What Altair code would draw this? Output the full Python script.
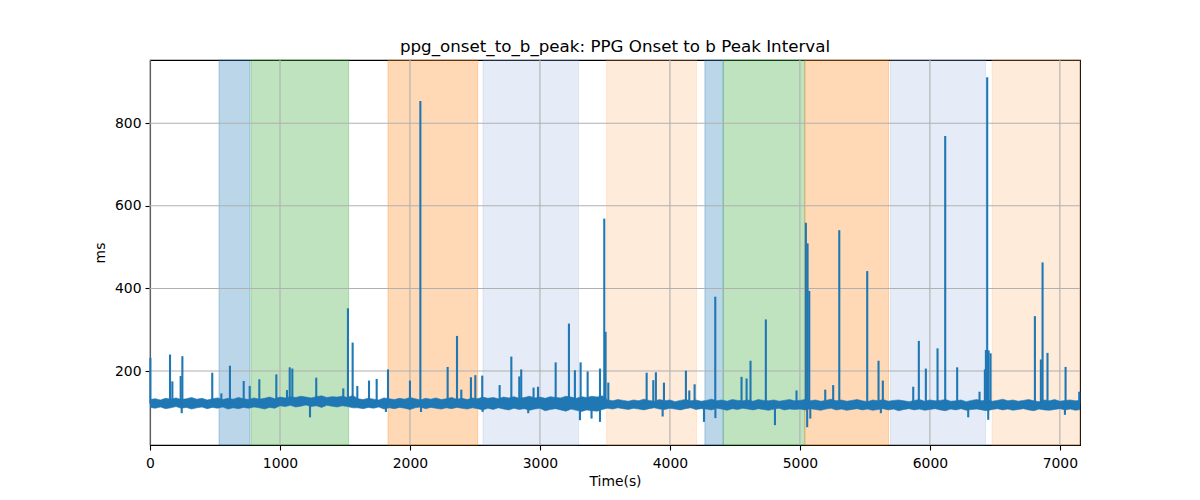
import altair as alt
import pandas as pd

TITLE = "ppg_onset_to_b_peak: PPG Onset to b Peak Interval"
X_TICKS = [0, 1000, 2000, 3000, 4000, 5000, 6000, 7000]
Y_TICKS = [200, 400, 600, 800]
X_MAX = 7155
Y_MIN, Y_MAX = 21, 953
STEP = 40
BASE = 121

# shaded spans
span_start = [531, 777, 1831, 2562, 3513, 4269, 4410, 5038, 5697, 6479]
span_end = [769, 1528, 2521, 3297, 4205, 4410, 5038, 5682, 6428, 7155]
span_color = ["#1f77b4", "#2ca02c", "#ff7f0e", "#7ba1d8", "#ff9d45",
              "#1f77b4", "#2ca02c", "#ff7f0e", "#7ba1d8", "#ff9d45"]
span_alpha = [0.3, 0.3, 0.3, 0.2, 0.2, 0.3, 0.3, 0.3, 0.2, 0.2]

# noisy baseline: upper / lower envelope of the signal, every 40 s
hi = [131, 133, 130, 134, 132, 135, 131, 133, 136, 132, 134, 130, 133, 135, 131,
      134, 132, 136, 133, 131, 135, 132, 134, 137, 133,
      137, 135, 138, 136, 139, 137, 135, 138, 140, 136, 138, 137, 139, 136, 141,
      133, 131, 134, 132, 130, 135, 133, 131, 134, 132, 136, 133, 130, 134, 132,
      135, 131, 133, 136, 132, 134, 131, 135, 133, 137,
      134, 136, 133, 137, 135, 138, 134, 136, 139, 135, 137, 134, 138, 136, 135,
      139, 137, 134, 138, 136, 139, 137, 140,
      130, 128, 131, 129, 127, 130, 128, 132, 129, 127, 131, 128, 130, 126, 129,
      131, 128, 130, 127, 129, 132, 128, 130, 127, 131, 129, 128, 130, 127, 131,
      129, 128, 130, 127, 129, 131, 128,
      129, 131, 128, 130, 127, 129, 132, 128, 130, 127, 129, 131, 128, 126, 130,
      128, 131, 127, 129, 130, 128, 126, 129, 131, 127, 130, 128, 129, 131, 127,
      128, 130, 126, 129, 131, 128, 130, 127, 129, 132, 128, 130, 127, 129, 131,
      128, 126, 130, 128, 131, 127, 129, 130, 128, 129]
lo = [112, 110, 113, 109, 111, 114, 110, 112, 108, 111, 113, 109, 112, 110, 113,
      108, 111, 109, 112, 110, 113, 111, 108, 112, 110,
      116, 114, 117, 113, 115, 118, 114, 116, 112, 117, 115, 113, 116, 114, 111,
      111, 109, 112, 110, 113, 108, 111, 109, 112, 110, 107, 111, 113, 109, 112,
      110, 108, 111, 109, 112, 110, 108, 111, 109, 106,
      110, 107, 111, 108, 106, 110, 107, 109, 105, 108, 110, 104, 107, 109, 106,
      103, 108, 105, 102, 106, 104, 103, 107,
      110, 108, 111, 109, 107, 110, 108, 106, 109, 111, 108, 107, 110, 108, 106,
      109, 111, 107, 109, 108, 106, 110, 108, 105, 109, 107, 110, 108, 106, 109,
      107, 105, 108, 110, 106, 108, 107,
      108, 106, 109, 107, 105, 108, 110, 106, 108, 105, 107, 109, 106, 108, 105,
      107, 109, 106, 108, 104, 107, 109, 106, 108, 105, 107, 109, 106, 104, 108,
      106, 109, 105, 107, 108, 106, 104, 107, 109, 106, 108, 105, 107, 109, 106,
      104, 108, 106, 105, 107, 109, 106, 108, 105, 107]

# upward spikes (time, peak value)
spike_t = [3, 154, 172, 236, 249, 479, 549, 615, 721, 767, 841, 972, 1054, 1075,
           1095, 1279, 1487, 1523, 1559, 1595, 1685, 1744, 1831, 2000, 2080, 2290,
           2362, 2395, 2469, 2503, 2556, 2690, 2780, 2841, 2856, 2951, 2985, 3121,
           3223, 3269, 3313, 3367, 3462, 3495, 3505, 3526, 3821, 3872, 3892, 3954,
           4123, 4149, 4190, 4349, 4551, 4590, 4620, 4738, 4974, 5046, 5059, 5072,
           5195, 5256, 5303, 5518, 5605, 5638, 5872, 5915, 5969, 6059, 6118, 6210,
           6382, 6423, 6431, 6441, 6452, 6467, 6808, 6854, 6867, 6905, 7044, 7149]
spike_v = [232, 240, 175, 188, 236, 196, 146, 213, 176, 164, 180, 192, 154, 209,
           206, 184, 158, 352, 269, 164, 177, 181, 204, 177, 854, 210,
           285, 155, 185, 190, 189, 166, 235, 187, 204, 160, 162, 221,
           315, 202, 221, 199, 206, 569, 295, 172, 196, 178, 197, 172,
           201, 153, 168, 380, 186, 182, 225, 325, 153, 559, 509, 394,
           155, 166, 541, 442, 225, 177, 162, 273, 206, 255, 769, 209,
           150, 204, 251, 911, 250, 243, 333, 228, 463, 244, 210, 150]

# downward dips (time, lowest value)
dip_t = [244, 1231, 1815, 2085, 2559, 2910, 3308, 3397, 3462, 3944, 4262, 4350,
         4808, 5056, 5080, 5623, 6295, 6449, 7039]
dip_v = [98, 88, 101, 101, 101, 98, 81, 85, 77, 90, 77, 86,
         69, 64, 85, 98, 88, 82, 94]

k = min(len(hi), len(lo))
band_df = pd.DataFrame({"t": [i * STEP for i in range(k)], "hi": hi[:k], "lo": lo[:k]})
n = min(len(spike_t), len(spike_v))
spike_df = pd.DataFrame({"t": spike_t[:n], "v": spike_v[:n], "b": [BASE] * n})
m = min(len(dip_t), len(dip_v))
dip_df = pd.DataFrame({"t": dip_t[:m], "v": dip_v[:m], "b": [BASE] * m})
span_df = pd.DataFrame({"s": span_start, "e": span_end, "c": span_color, "a": span_alpha,
                        "lo": [Y_MIN] * len(span_start), "hi": [Y_MAX] * len(span_start)})
xg_df = pd.DataFrame({"x": X_TICKS})
yg_df = pd.DataFrame({"y": Y_TICKS})

FONT = "DejaVu Sans"
BLUE = "#1f77b4"

xs = alt.Scale(domain=[0, X_MAX], nice=False, zero=False)
ys = alt.Scale(domain=[Y_MIN, Y_MAX], nice=False, zero=False)

x_axis = alt.Axis(values=X_TICKS, format="d", title="Time(s)", grid=False,
                  tickSize=5, labelPadding=6, titlePadding=5, labelFlush=False)
y_axis = alt.Axis(values=Y_TICKS, format="d", title="ms", grid=False,
                  tickSize=5, labelPadding=4, titlePadding=7, labelFlush=False)


def X(f):
    return alt.X(f, type="quantitative", scale=xs, axis=x_axis)


def Y(f):
    return alt.Y(f, type="quantitative", scale=ys, axis=y_axis)


rects = alt.Chart(span_df).mark_rect(strokeWidth=1).encode(
    x=X("s"), x2="e", y=Y("lo"), y2="hi",
    fill=alt.Fill("c:N", scale=None),
    stroke=alt.Stroke("c:N", scale=None),
    fillOpacity=alt.FillOpacity("a:Q", scale=None),
    strokeOpacity=alt.StrokeOpacity("a:Q", scale=None),
)

xgrid = alt.Chart(xg_df).mark_rule(color="#b0b0b0", strokeWidth=1.1).encode(x=X("x"))
ygrid = alt.Chart(yg_df).mark_rule(color="#b0b0b0", strokeWidth=1.1).encode(y=Y("y"))

band = alt.Chart(band_df).mark_area(color=BLUE, stroke=BLUE, strokeWidth=0.6,
                                    clip=True, opacity=1).encode(
    x=X("t"), y=Y("lo"), y2="hi")
spikes = alt.Chart(spike_df).mark_rule(color=BLUE, strokeWidth=2.1).encode(
    x=X("t"), y=Y("b"), y2="v")
dips = alt.Chart(dip_df).mark_rule(color=BLUE, strokeWidth=2.1).encode(
    x=X("t"), y=Y("b"), y2="v")

chart = alt.layer(rects, xgrid, ygrid, band, spikes, dips).properties(
    width=930,
    height=385,
    title=alt.TitleParams(TITLE, font=FONT, fontSize=16.7, fontWeight="normal",
                          color="black", anchor="middle", offset=4),
    autosize=alt.AutoSizeParams(type="none"),
    padding={"left": 142, "top": 52, "right": 112, "bottom": 50},
).configure_view(
    stroke="black", strokeWidth=1.1
).configure_axis(
    labelFont=FONT, titleFont=FONT, labelFontSize=13.9, titleFontSize=13.9,
    titleFontWeight="normal", labelColor="black", titleColor="black",
    domainColor="black", tickColor="black", domainWidth=1.1, tickWidth=1.1,
)

chart.save("out.html", embed_options={"renderer": "svg", "actions": False})
